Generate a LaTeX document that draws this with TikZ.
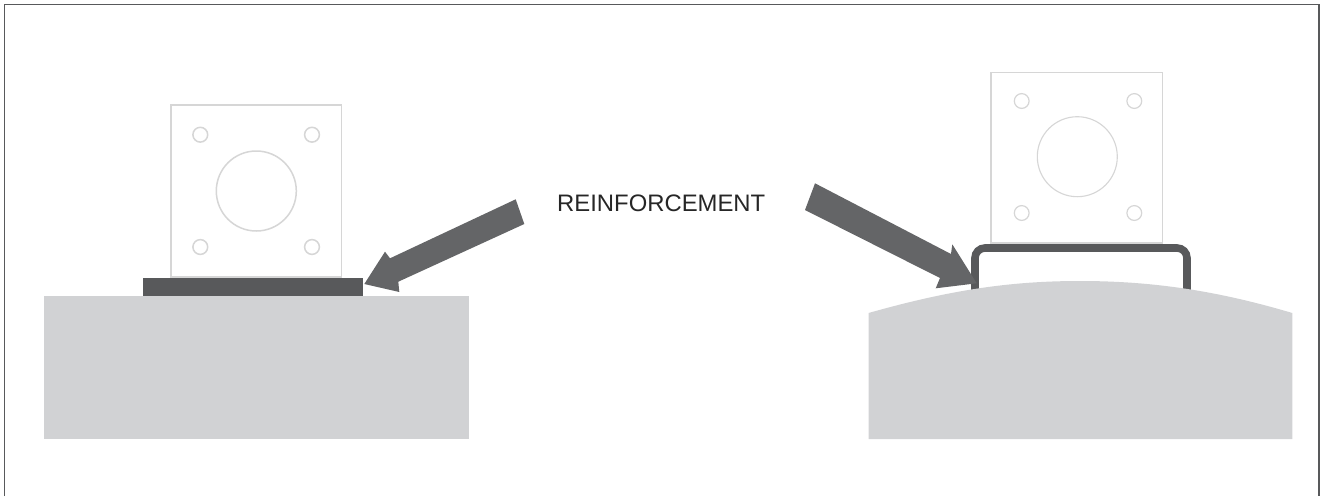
\documentclass[tikz,border=0pt]{standalone}
\usepackage{fontspec}
\setmainfont{Liberation Sans}
\definecolor{blockgrey}{HTML}{D1D2D4}
\definecolor{arrowgrey}{HTML}{646567}
\definecolor{bargrey}{HTML}{58595B}
\definecolor{plategrey}{HTML}{D6D6D6}
\definecolor{framegrey}{HTML}{58595B}
\tikzset{
  block/.style={fill=blockgrey,draw=none},
  platebox/.style={draw=plategrey,fill=white},
  platehole/.style={draw=plategrey},
  bigarrow/.style={fill=arrowgrey,draw=none},
  framing/.style={draw=framegrey,line width=1.2pt},
}
\begin{document}
\begin{tikzpicture}[x=1pt,y=-1pt]
\useasboundingbox (0,0) rectangle (1320,496);
% frame
\draw[framing] (4.5,496) -- (4.5,4.5) -- (1319,4.5) -- (1319,496);
% left assembly
\fill[block] (44,296) rectangle (469,439);
\draw[platebox,line width=1.6pt] (171,105) rectangle (341.5,277);
\foreach \cx/\cy in {200.3/134.7,312/134.7,200.3/247,312/247}
  \draw[platehole,line width=1.5pt] (\cx,\cy) circle (7.4);
\draw[platehole,line width=1.5pt] (256.3,191) circle (40);
\fill[bargrey] (143,278) rectangle (362.7,296);
\fill[bigarrow] (515.7,199.3) -- (524.3,224) -- (398.3,281.7) -- (399.3,292) -- (364.3,284) -- (385,251.7) -- (390,258.3) -- cycle;
% label
\node[anchor=base west,inner sep=0pt,font=\fontsize{23.85}{26}\selectfont,text=black!85] (label) at (557,211) {REINFORCEMENT};
% right assembly
\draw[platebox,line width=1.1pt] (991,72.3) rectangle (1162.3,243);
\foreach \cx/\cy in {1021.7/101,1134.3/101,1021.7/213,1134.3/213}
  \draw[platehole,line width=1.2pt] (\cx,\cy) circle (7.4);
\draw[platehole,line width=1.1pt] (1077.3,156.7) circle (40);
\draw[bargrey,line width=7.6pt,rounded corners=10pt] (975,292) -- (975,248) -- (1187,248) -- (1187,292);
\fill[block] (868.5,313) .. controls (950,290) and (1010,281) .. (1080,281) .. controls (1150,281) and (1215,290) .. (1292.3,313) -- (1292.3,439) -- (868.5,439) -- cycle;
\fill[bigarrow] (815,183.3) -- (805,210) -- (940,278) -- (935.7,288.3) -- (976.7,283.3) -- (952.3,244.3) -- (951,254) -- cycle;
\end{tikzpicture}
\end{document}
